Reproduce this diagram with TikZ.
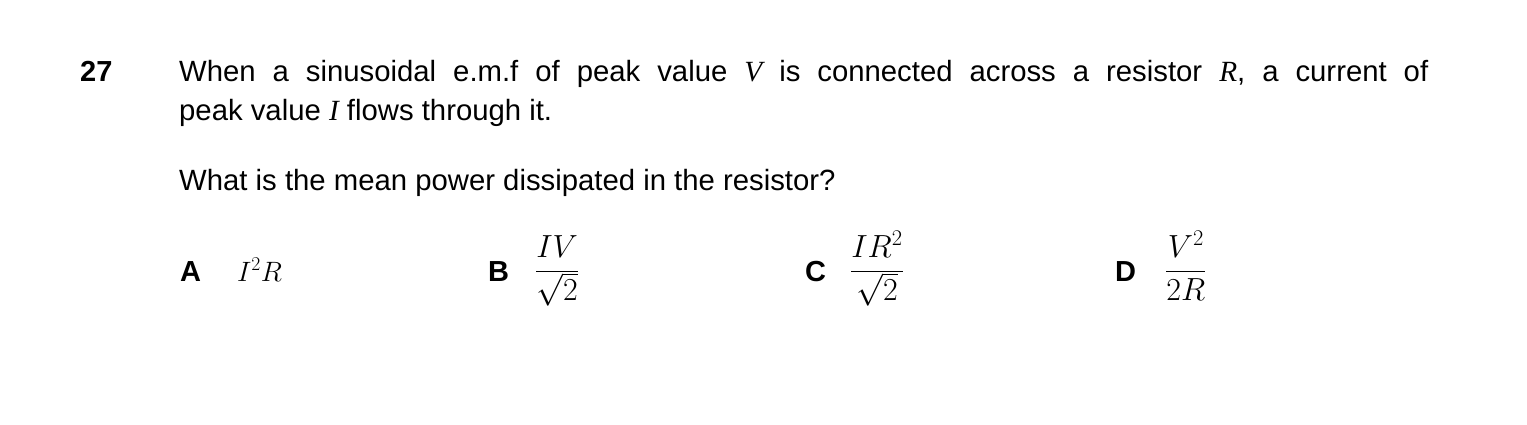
\RequirePackage{fix-cm}
\documentclass[tikz,border=0pt]{standalone}
\usepackage{fontspec}
\setmainfont{Liberation Sans}
\newfontfamily\tnr{Liberation Serif}
\newcommand{\vr}[1]{{\tnr\itshape #1}}
\begin{document}
\begin{tikzpicture}[x=1pt,y=-1pt,
  txt/.style={anchor=base west,inner sep=0pt,font=\fontsize{29.3}{31}\selectfont},
  lbl/.style={anchor=base west,inner sep=0pt,font=\fontsize{29}{31}\selectfont\bfseries},
  mth/.style={anchor=base west,inner sep=0pt,font=\fontsize{32}{36}\selectfont},
  mtha/.style={anchor=base west,inner sep=0pt,font=\fontsize{28}{36}\selectfont}]
\useasboundingbox[fill=white] (0,0) rectangle (1527,425);
\node[lbl] (num) at (80,82) {27};
\node[txt] (l1) at (179,82) {\hbox to 1249pt{When a sinusoidal e.m.f of peak value \vr{V} is connected across a resistor \vr{R}, a current of}};
\node[txt] (l2) at (179,121) {peak value \vr{I} flows through it.};
\node[txt] (l3) at (179,190) {What is the mean power dissipated in the resistor?};
\node[lbl] (A) at (180,281) {A};
\node[mtha] (Aa) at (237,281) {$I^2R$};
\node[lbl] (B) at (488,281) {B};
\node[mth] (Ba) at (535,279) {$\displaystyle\frac{IV}{\sqrt{2}}$};
\node[lbl] (C) at (805,281) {C};
\node[mth] (Ca) at (850,279) {$\displaystyle\frac{IR^2}{\sqrt{2}}$};
\node[lbl] (D) at (1115,281) {D};
\node[mth] (Da) at (1165,279) {$\displaystyle\frac{V^2}{2R}$};
\end{tikzpicture}
\end{document}
